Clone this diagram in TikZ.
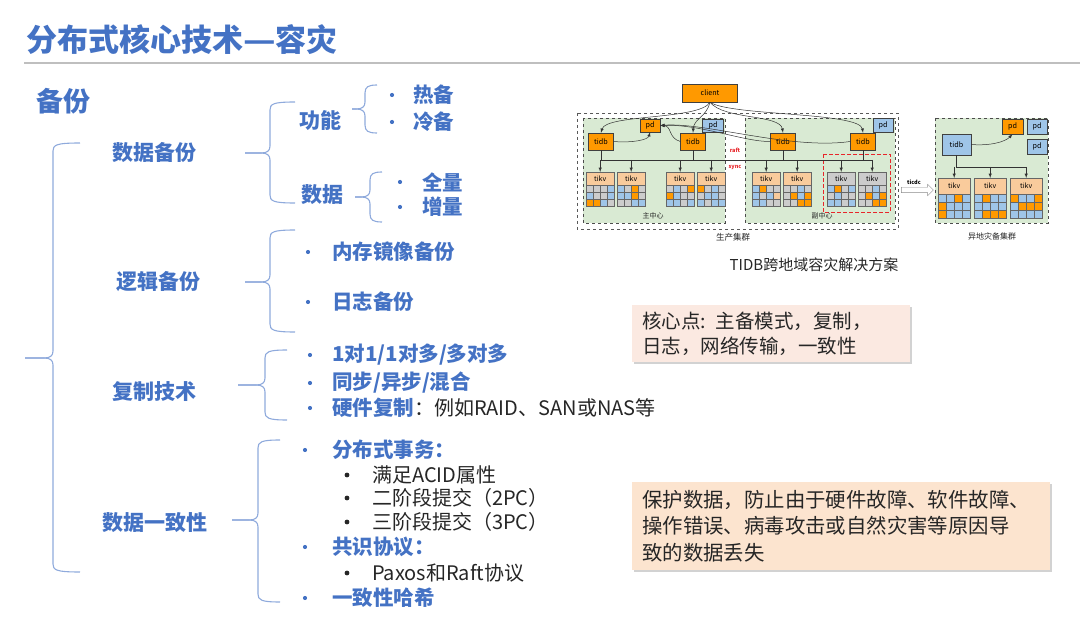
\documentclass[tikz,border=0pt]{standalone}
\usepackage{fontspec}
\usepackage{graphicx}
\setmainfont{Noto Sans CJK SC}
\usetikzlibrary{shapes.arrows,shadows}

\definecolor{deckblue}{HTML}{4472C4}
\definecolor{bracecol}{HTML}{8FAADC}
\definecolor{rulegray}{HTML}{BFBFBF}
\definecolor{inkgray}{HTML}{262626}
\definecolor{notepink}{HTML}{FBE9E1}
\definecolor{notepeach}{HTML}{FCE4CF}
\definecolor{co}{HTML}{FF9900}
\definecolor{cb}{HTML}{9FC5E8}
\definecolor{cg}{HTML}{CCCCCC}
\definecolor{tkhead}{HTML}{F9CB9C}
\definecolor{zonegreen}{HTML}{D9EAD3}
\definecolor{alarmred}{HTML}{E8252A}

% curly bracket: tip x, tip y, spine x, top y, bottom y, end x
\newcommand{\curlyb}[6]{%
  \draw[brace] (#6,#4) .. controls ({#3+3},#4) and (#3,{#4+2}) .. (#3,{#4+8})
    -- (#3,{#2-7}) .. controls (#3,{#2-2}) and ({#3-3},#2) .. ({#3-9},#2) -- (#1,#2);
  \draw[brace] (#1,#2) -- ({#3-9},#2) .. controls ({#3-3},#2) and (#3,{#2+2}) .. (#3,{#2+7})
    -- (#3,{#5-8}) .. controls (#3,{#5-2}) and ({#3+3},#5) .. (#6,#5);
}

% tikv unit: name, left x, top y, cell size, header height, header colour, cells
\newcommand{\tikvunit}[7]{%
  \node[tikvhead, fill=#6, minimum width={4*#4}, minimum height=#5, anchor=north west] (#1) at (#2,#3) {tikv};
  \foreach \c [count=\i from 0] in {#7} {%
    \pgfmathtruncatemacro{\cellrow}{\i/4}%
    \pgfmathtruncatemacro{\cellcol}{mod(\i,4)}%
    \filldraw[fill=\c, draw=black!60, line width=0.35pt]
      ({#2+\cellcol*#4},{#3+#5+\cellrow*#4}) rectangle ++(#4,#4);
  }%
}

\begin{document}
\begin{tikzpicture}[x=1pt, y=-1pt, >=latex,
  heading/.style={font=\bfseries\fontsize{21}{24}\selectfont, text=deckblue, inner sep=0},
  item/.style={font=\bfseries\fontsize{20.5}{24}\selectfont, text=deckblue, anchor=west, inner sep=0},
  subitem/.style={font=\fontsize{20}{24}\selectfont, text=inkgray, anchor=west, inner sep=0},
  brace/.style={bracecol, line width=1.1pt},
  notebox/.style={anchor=north west, draw=none, inner xsep=10pt, align=left, text=inkgray,
    drop shadow={shadow xshift=2pt, shadow yshift=-2pt, fill=black!35}},
  cbox/.style={draw=black!75, line width=0.4pt, font=\fontsize{7.2}{8}\selectfont, inner sep=0},
  tikvhead/.style={draw=black!60, line width=0.35pt, font=\fontsize{7}{8}\selectfont, inner sep=0},
  link/.style={black!80, line width=0.5pt},
  tiny/.style={font=\fontsize{7}{8}\selectfont, text=inkgray, inner sep=0},
  redtag/.style={font=\bfseries\fontsize{5.5}{6}\selectfont, text=alarmred, inner sep=0}]
  \useasboundingbox (0,0) rectangle (1080,620);

  % Tittel
  \node[anchor=west, font=\bfseries\fontsize{31}{34}\selectfont, text=deckblue, inner sep=0] (title) at (26,40)
    {分布式核心技术\scalebox{1.15}[1]{—}容灾};
  \draw[rulegray, line width=1.5pt] (24,63) -- (1080,63);
  \node[anchor=west, font=\bfseries\fontsize{27}{30}\selectfont, text=deckblue, inner sep=0] (backup) at (36,101) {备份};

  % Klammer
  \curlyb{25}{358}{53}{143}{572}{80}
  \curlyb{245}{153}{270}{102}{203}{295}
  \curlyb{352}{109}{365}{85}{133}{377}
  \curlyb{355}{197}{370}{172}{222}{382}
  \curlyb{245}{282}{270}{230}{332}{295}
  \curlyb{238}{385}{265}{350}{420}{287}
  \curlyb{232}{520}{258}{440}{602}{280}

  % Hovedgrupper
  \node[heading] (databk) at (154,153) {数据备份};
  \node[heading] (logicbk) at (158,282) {逻辑备份};
  \node[heading] (replica) at (154,392) {复制技术};
  \node[heading] (consist) at (155,523) {数据一致性};
  \node[heading] (func) at (320,121) {功能};
  \node[heading] (data) at (322,195) {数据};

  % Punkter
  \foreach \x/\y in {392/95, 392/122, 400/182, 400/207, 308/252, 308/302,
                     310/355, 310/383, 310/408, 305/450, 305/547, 305/598}
    \fill[deckblue] (\x,\y) circle (2.1);
  \foreach \y in {475, 498, 522, 573}
    \fill[inkgray] (347,\y) circle (2.4);

  \node[item] (hot) at (413,95) {热备};
  \node[item] (cold) at (413,122) {冷备};
  \node[item] (full) at (422,182) {全量};
  \node[item] (incr) at (422,207) {增量};
  \node[item] (mirror) at (332,252) {内存镜像备份};
  \node[item] (logbk) at (332,302) {日志备份};
  \node[item] (ratio) at (332,355) {1对1/1对多/多对多};
  \node[item] (sync) at (332,383) {同步/异步/混合};
  \node[subitem] (hwcopy) at (332,408) {{\bfseries\fontsize{20.5}{24}\selectfont\color{deckblue}硬件复制}：例如RAID、SAN或NAS等};
  \node[item] (dtx) at (332,450) {分布式事务：};
  \node[subitem] (acid) at (372,475) {满足ACID属性};
  \node[subitem] (twopc) at (372,498) {二阶段提交（2PC）};
  \node[subitem] (threepc) at (372,522) {三阶段提交（3PC）};
  \node[item] (consensus) at (332,547) {共识协议：};
  \node[subitem] (paxos) at (372,573) {Paxos和Raft协议};
  \node[item] (hash) at (332,598) {一致性哈希};

  % Notater
  \node[notebox, fill=notepink, text width=258, minimum height=57, font=\fontsize{19.5}{25}\selectfont]
    (core) at (632,305) {核心点: 主备模式，复制，\\日志，网络传输，一致性};
  \node[notebox, fill=notepeach, text width=398, minimum height=88, font=\fontsize{20.4}{26.5}\selectfont]
    (purpose) at (632,482) {保护数据，防止由于硬件故障、软件故障、\\操作错误、病毒攻击或自然灾害等原因导\\致的数据丢失};

  % Produksjonsklynge
  \draw[black!65, dashed, line width=0.7pt] (577,113) rectangle (898,229);
  \filldraw[fill=zonegreen, draw=black!70, dashed, line width=0.6pt] (583,118) rectangle (725,223);
  \filldraw[fill=zonegreen, draw=black!70, dashed, line width=0.6pt] (745,118) rectangle (895,223);
  \draw[alarmred, dash pattern=on 4pt off 2pt, line width=0.8pt] (823,154) rectangle (890,212);

  \node[cbox, fill=co, minimum width=55, minimum height=18] (client) at (710,93) {client};
  \node[cbox, fill=co, minimum width=20, minimum height=13] (pdA) at (650,125.5) {pd};
  \node[cbox, fill=cb, minimum width=21, minimum height=13] (pdB) at (713,125.5) {pd};
  \node[cbox, fill=cb, minimum width=20, minimum height=14] (pdC) at (883,125) {pd};
  \foreach \n/\x in {1/601, 2/693, 3/783, 4/863}
    \node[cbox, fill=co, minimum width=25, minimum height=17] (tidb\n) at (\x,141.5) {tidb};

  \tikvunit{tk1}{586}{172}{7}{13}{tkhead}{cg,cg,cg,cb, cb,cg,cg,cb, co,co,cb,cg}
  \tikvunit{tk2}{617}{172}{7}{13}{tkhead}{cb,cg,co,cg, cb,cb,co,cg, cg,cg,cb,cb}
  \tikvunit{tk3}{666}{172}{7}{13}{tkhead}{cg,cb,cg,co, co,cb,cg,cg, cb,cb,cg,cb}
  \tikvunit{tk4}{697}{172}{7}{13}{tkhead}{co,cg,cb,cg, cg,cb,cb,cg, cb,cg,cb,cb}
  \tikvunit{tk5}{752}{172}{7}{13}{tkhead}{cb,co,cg,cg, cb,cg,cb,tkhead, cb,cb,cg,cg}
  \tikvunit{tk6}{783}{172}{7}{13}{tkhead}{cg,cg,cb,cg, cg,co,cb,co, cg,cg,co,co}
  \tikvunit{tk7}{827}{172}{7}{13}{cg}{cb,co,cg,cb, cg,cb,cg,cg, cb,cb,cg,cb}
  \tikvunit{tk8}{858}{172}{7}{13}{cg}{cg,cg,cb,cg, cg,co,cb,co, cg,cg,co,co}

  \coordinate (bus) at (0,160);
  \draw[link] (tk1.north |- bus) -- (tk8.north |- bus);
  \foreach \n in {1,...,4}
    \draw[link] (tidb\n.south) -- (tidb\n.south |- bus);
  \foreach \n in {1,...,8}
    \draw[link,->] (tk\n.north |- bus) -- (tk\n.north);

  \draw[link,->] (client.south) .. controls (700,120) and (606,114) .. (tidb1.north);
  \draw[link,->] (client.south) .. controls (706,118) and (694,118) .. (tidb2.north);
  \draw[link,->] (client.south) .. controls (724,120) and (780,114) .. (tidb3.north);
  \draw[link,->] (client.south) .. controls (730,116) and (860,112) .. (tidb4.north);
  \draw[link,->] (tidb1.east) .. controls (632,143) and (648,140) .. (pdA.south);
  \draw[link,->] (tidb2.west) .. controls (668,138) and (672,126) .. (pdA.east);
  \draw[link,->] (tidb3.west) .. controls (745,142) and (700,124) .. (pdA.east);
  \draw[link,->] (tidb4.west) .. controls (790,150) and (705,122) .. (pdA.east);

  \node[redtag] (rafttag) at (735,150) {raft};
  \node[redtag] (synctag) at (735,168) {sync};
  \node[tiny] (mainlbl) at (653,216) {主中心};
  \node[tiny] (backlbl) at (822,216) {副中心};
  \node[tiny, font=\fontsize{8.5}{9}\selectfont] (prodlbl) at (733,237) {生产集群};

  % Overføring
  \node[single arrow, draw=black!45, fill=white, minimum height=32, inner sep=2.5pt,
    single arrow head extend=3pt] (cdc) at (916,190) {};
  \node[redtag, text=black] (cdclbl) at (914,182) {ticdc};

  % Fjernklynge
  \filldraw[fill=zonegreen, draw=black!70, dashed, line width=0.6pt] (935,118) rectangle (1048,223);
  \node[cbox, fill=co, minimum width=21, minimum height=15] (pdD) at (1012.5,126.5) {pd};
  \node[cbox, fill=cb, minimum width=20, minimum height=15] (pdE) at (1037,126.5) {pd};
  \node[cbox, fill=cb, minimum width=20, minimum height=15] (pdF) at (1037,146.5) {pd};
  \node[cbox, fill=cb, minimum width=29, minimum height=21] (tidbR) at (956.5,144.5) {tidb};

  \tikvunit{tk9}{938}{178}{8}{16}{tkhead}{cb,cb,co,cb, co,cb,cb,cb, co,cb,cb,cb}
  \tikvunit{tk10}{974}{178}{8}{16}{tkhead}{cb,co,cb,cb, cb,cb,cb,cb, cb,co,co,co}
  \tikvunit{tk11}{1010}{178}{8}{16}{tkhead}{co,cb,cb,co, cb,co,co,co, cb,cb,cb,cb}

  \coordinate (rbus) at (0,167);
  \draw[link] (tidbR.south) -- (tidbR.south |- rbus) -- (tk11.north |- rbus);
  \foreach \n in {9,10,11}
    \draw[link,->] (tk\n.north |- rbus) -- (tk\n.north);
  \draw[link,->] (tidbR.east) .. controls (990,146) and (1005,142) .. (pdD.south);
  \node[tiny, font=\fontsize{8}{9}\selectfont] (drlbl) at (992,236) {异地灾备集群};

  \node[font=\fontsize{15}{17}\selectfont, text=inkgray, inner sep=0] (caption) at (814,265) {TIDB跨地域容灾解决方案};
\end{tikzpicture}
\end{document}
